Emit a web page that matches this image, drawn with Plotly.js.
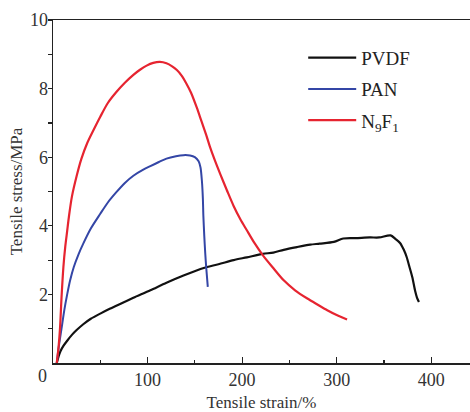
<!DOCTYPE html>
<html>
<head>
<meta charset="utf-8">
<script src="https://cdn.plot.ly/plotly-3.0.1.min.js"></script>
<style>html,body{margin:0;padding:0;background:#fff;}#chart{width:470px;height:412px;}</style>
</head>
<body>
<div id="chart"></div>
<script>
const pvdfStrain = [4, 6, 8, 11, 15, 20, 25, 32, 40, 50, 60, 67, 85, 103, 120, 138, 156, 163, 175, 191, 205, 222, 233, 244, 258, 272, 282, 297, 307, 320, 335, 345, 357, 362, 367, 371, 374, 377, 380, 383, 385, 387];
const pvdfStress = [0, 0.2, 0.35, 0.5, 0.65, 0.82, 0.96, 1.13, 1.29, 1.44, 1.58, 1.67, 1.9, 2.12, 2.34, 2.55, 2.74, 2.8, 2.88, 3.0, 3.08, 3.18, 3.22, 3.3, 3.38, 3.45, 3.48, 3.53, 3.63, 3.64, 3.66, 3.66, 3.72, 3.62, 3.5, 3.3, 3.09, 2.8, 2.5, 2.1, 1.9, 1.78];

const panStrain = [4, 6, 9, 12, 15, 18, 22, 27, 32, 40, 50, 58, 67, 76, 85, 95, 103, 112, 120, 130, 138, 145, 150, 154, 156, 157.5, 158.5, 159, 160, 161, 162, 163.7];
const panStress = [0, 0.45, 1.0, 1.55, 2.0, 2.4, 2.8, 3.17, 3.48, 3.92, 4.35, 4.68, 4.98, 5.25, 5.46, 5.63, 5.74, 5.86, 5.96, 6.03, 6.06, 6.05, 6.0, 5.88, 5.7, 5.3, 4.8, 4.3, 3.7, 3.2, 2.8, 2.22];

const nfStrain = [4, 6, 7.5, 9, 11, 13, 15, 17, 20, 25, 30, 36, 43, 50, 58, 67, 76, 85, 92, 99, 106, 113, 120, 126, 131, 136, 141, 146, 152, 157, 162, 166, 171, 177, 184, 191, 198, 205, 213, 222, 232, 244, 256, 269, 280, 290, 300, 311];
const nfStress = [0, 0.5, 1.05, 1.9, 2.8, 3.4, 3.85, 4.3, 4.85, 5.45, 5.95, 6.4, 6.8, 7.18, 7.58, 7.9, 8.17, 8.4, 8.55, 8.67, 8.75, 8.78, 8.74, 8.65, 8.54, 8.38, 8.15, 7.88, 7.45, 7.05, 6.65, 6.3, 5.92, 5.5, 5.03, 4.58, 4.2, 3.87, 3.5, 3.14, 2.8, 2.41, 2.12, 1.88, 1.7, 1.54, 1.4, 1.27];

const xTickVals = [100, 200, 300, 400];
const xMinorVals = [0, 50, 150, 250, 350];
const yTickVals = [2, 4, 6, 8, 10];
const yMinorVals = [1, 3, 5, 7, 9];
const seriesNames = ['PVDF', 'PAN', 'N<sub>9</sub>F<sub>1</sub>'];

const serif = 'Liberation Serif, Times New Roman, serif';

const traces = [
  {x: pvdfStrain, y: pvdfStress, name: seriesNames[0], legendgroup: 'a', mode: 'lines', line: {color: '#111111', width: 2.2, shape: 'spline', smoothing: 0.8}},
  {x: panStrain, y: panStress, name: seriesNames[1], legendgroup: 'b', mode: 'lines', line: {color: '#3446a6', width: 2, shape: 'spline', smoothing: 0.8}},
  {x: nfStrain, y: nfStress, name: seriesNames[2], legendgroup: 'c', mode: 'lines', line: {color: '#e62430', width: 2.2, shape: 'spline', smoothing: 0.8}},
  // empty helper trace so the tick-only overlay axis is drawn
  {x: [], y: [], yaxis: 'y2', mode: 'lines', showlegend: false, hoverinfo: 'skip'}
];

const layout = {
  width: 470, height: 412,
  margin: {l: 53, r: 0, t: 20, b: 49},
  paper_bgcolor: '#fff', plot_bgcolor: '#fff',
  showlegend: true,
  legend: {
    x: 0.6, y: 0.945, xanchor: 'left', yanchor: 'top',
    font: {family: serif, size: 19, color: '#222'},
    itemwidth: 48, tracegroupgap: 3.5, traceorder: 'grouped',
    bgcolor: 'rgba(0,0,0,0)'
  },
  xaxis: {
    range: [0, 441], showgrid: false, zeroline: false,
    showline: true, linecolor: '#222', linewidth: 1.5, mirror: true,
    tickvals: xTickVals, ticks: 'inside', ticklen: 6, tickwidth: 1.2, tickcolor: '#222',
    minor: {tickvals: xMinorVals, ticks: 'inside', ticklen: 3, tickcolor: '#222'},
    tickfont: {family: serif, size: 18, color: '#333'},
    title: {text: 'Tensile strain/%', font: {family: serif, size: 17, color: '#333'}, standoff: 12}
  },
  yaxis: {
    range: [0, 10], showgrid: false, zeroline: false,
    showline: true, linecolor: '#222', linewidth: 1.5,
    tickvals: yTickVals, ticks: '',
    tickfont: {family: serif, size: 18, color: '#333'},
    title: {text: 'Tensile stress/MPa', font: {family: serif, size: 17, color: '#333'}, standoff: 3}
  },
  yaxis2: {
    overlaying: 'y', side: 'left', range: [0, 10],
    showgrid: false, zeroline: false, showline: false, showticklabels: false,
    tickvals: yTickVals, ticks: 'outside', ticklen: 4, tickwidth: 1.2, tickcolor: '#222',
    minor: {tickvals: yMinorVals, ticks: 'outside', ticklen: 4, tickwidth: 1.2, tickcolor: '#222'}
  },
  annotations: [
    {text: '0', xref: 'paper', yref: 'paper', x: -0.025, y: 0, yshift: -13, showarrow: false,
     font: {family: serif, size: 18, color: '#333'}, xanchor: 'center', yanchor: 'middle'}
  ]
};

Plotly.newPlot('chart', traces, layout, {displayModeBar: false, staticPlot: true});
</script>
</body>
</html>
